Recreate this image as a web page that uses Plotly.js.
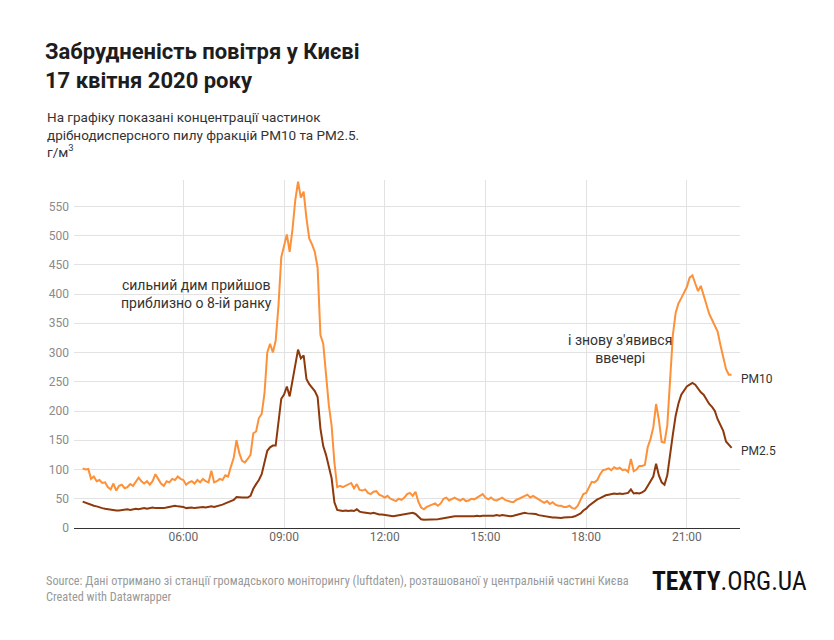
<!DOCTYPE html>
<html>
<head>
<meta charset="utf-8">
<script src="https://cdn.plot.ly/plotly-3.0.1.min.js"></script>
<style>
  html, body { margin: 0; padding: 0; background: #fff; }
  #chart { width: 834px; height: 640px; }
</style>
</head>
<body>
<div id="chart"></div>
<script>
// Sampling: every 5 minutes from 03:00 to 22:20, 17 April 2020
const DAY = '2020-04-17';
const START_MIN = 180;
const STEP_MIN = 5;

// PM10, ug/m3 (12 values per hour, :00 ... :55)
const pm10 = [
  102,100,101,84,88,80,82,77,78,70,66,76,        // 03
  64,72,74,68,70,75,72,78,86,80,76,80,           // 04
  74,80,92,84,76,72,80,78,84,82,88,84,           // 05
  82,74,78,80,76,82,78,84,80,78,98,78,           // 06
  80,84,82,90,88,105,120,150,128,115,112,118,    // 07
  125,162,165,188,195,230,300,315,300,320,380,463, // 08
  485,502,472,510,560,592,565,575,530,495,485,472, // 09
  445,330,315,261,210,175,112,70,72,70,72,75,    // 10
  77,68,75,65,64,66,60,58,62,63,57,55,           // 11
  52,55,50,48,46,50,48,52,58,60,55,62,           // 12
  45,35,32,36,38,40,42,38,42,50,52,47,           // 13
  50,52,49,47,50,46,47,50,49,52,55,58,           // 14
  52,49,52,48,47,50,52,48,46,45,44,48,           // 15
  50,52,54,57,52,55,52,49,45,43,46,41,           // 16
  44,40,38,38,36,36,38,34,33,38,48,58,           // 17
  60,70,79,78,82,92,99,100,102,99,104,101,       // 18
  103,99,100,96,118,97,100,106,106,108,138,152,  // 19
  172,212,185,147,146,175,264,330,368,384,393,402, // 20
  412,428,432,418,405,414,398,378,366,356,346,336, // 21
  313,290,272,262,262                            // 22
];

// PM2.5, ug/m3
const pm25 = [
  45,43,42,40,38,37,35,34,33,32,31,30,           // 03
  30,30,31,31,32,31,32,33,32,33,34,33,           // 04
  34,35,34,34,33,34,35,36,37,38,37,37,           // 05
  36,34,35,35,34,35,36,36,35,36,37,36,           // 06
  37,38,40,42,44,46,48,53,52,52,52,52,           // 07
  55,67,75,82,92,112,132,138,141,141,180,221,    // 08
  228,242,225,250,280,305,290,295,255,246,240,234, // 09
  224,170,140,125,105,85,44,31,30,29,30,29,      // 10
  30,29,32,28,27,26,25,25,26,24,23,23,           // 11
  22,22,21,20,21,22,23,23,24,25,26,24,           // 12
  20,15,14,14,14,15,15,15,16,17,18,18,           // 13
  19,20,20,20,20,20,19,20,20,21,20,21,           // 14
  21,20,21,21,22,21,22,21,20,20,21,22,           // 15
  23,25,26,25,25,25,24,22,21,20,19,18,           // 16
  18,18,17,17,18,18,18,19,20,22,25,30,           // 17
  33,38,42,46,49,51,54,56,57,58,59,58,           // 18
  59,58,59,60,66,59,60,59,61,64,72,79,           // 19
  88,110,90,78,74,90,130,160,192,213,228,236,    // 20
  242,245,248,245,238,232,228,220,212,207,200,186, // 21
  177,166,148,142,137                            // 22
];

const xTickVals = ['06:00','09:00','12:00','15:00','18:00','21:00'];
const yTickVals = [0,50,100,150,200,250,300,350,400,450,500,550];
const seriesNames = ['PM10','PM2.5'];

const titleText = 'Забрудненість повітря у Києві<br>17 квітня 2020 року';
const subtitleText = 'На графіку показані концентрації частинок<br>дрібнодисперсного пилу фракцій PM10 та PM2.5.<br>г/м<sup>3</sup>';
const note1 = 'сильний дим прийшов<br>приблизно о 8-ій ранку';
const note2 = "і знову з'явився<br>ввечері";
const sourceText = 'Source: Дані отримано зі станції громадського моніторингу (luftdaten), розташованої у центральній частині Києва';
const creditText = 'Created with Datawrapper';
const brandText = '<b>TEXTY</b>.ORG.UA';

function pad(n) { return (n < 10 ? '0' : '') + n; }
const times = pm10.map(function (_, i) {
  const m = START_MIN + STEP_MIN * i;
  return DAY + ' ' + pad(Math.floor(m / 60)) + ':' + pad(m % 60);
});

const W = 834, H = 640;
const L = 74, R = 94, T = 180, B = 112;
const pw = W - L - R, ph = H - T - B;
function px(x) { return (x - L) / pw; }
function py(y) { return (H - B - y) / ph; }

const FONT = 'Roboto, "Noto Sans", sans-serif';
const COND = '"Roboto Condensed", "Liberation Sans Narrow", "DejaVu Sans Condensed", Roboto, sans-serif';

const traces = [
  { x: times, y: pm10, name: seriesNames[0], type: 'scatter', mode: 'lines',
    line: { color: '#fd9139', width: 2 }, hoverinfo: 'skip' },
  { x: times, y: pm25, name: seriesNames[1], type: 'scatter', mode: 'lines',
    line: { color: '#8e390c', width: 2 }, hoverinfo: 'skip' }
];

const layout = {
  width: W, height: H,
  margin: { l: L, r: R, t: T, b: B, pad: 0 },
  paper_bgcolor: '#ffffff', plot_bgcolor: '#ffffff',
  showlegend: false,
  font: { family: FONT, color: '#333' },
  title: {
    text: titleText,
    font: { family: FONT, size: 22, color: '#1d1d1d', weight: 700 },
    x: 45 / W, xref: 'container', xanchor: 'left',
    y: 1 - 59 / H, yref: 'container', yanchor: 'top'
  },
  xaxis: {
    type: 'date',
    range: [DAY + ' 02:44:30', DAY + ' 22:35'],
    tickvals: xTickVals.map(function (t) { return DAY + ' ' + t; }),
    ticktext: xTickVals,
    showgrid: true, gridcolor: '#e2e2e2', gridwidth: 1,
    zeroline: false, showline: false, ticks: '',
    tickfont: { family: FONT, size: 12, color: '#666' },
    fixedrange: true
  },
  yaxis: {
    range: [0, 595],
    tickvals: yTickVals,
    showgrid: true, gridcolor: '#e2e2e2', gridwidth: 1,
    zeroline: true, zerolinecolor: '#333', zerolinewidth: 1,
    showline: false, ticks: '',
    tickfont: { family: FONT, size: 12, color: '#8a8a8a' },
    ticklabelstandoff: 4,
    fixedrange: true
  },
  annotations: [
    { text: subtitleText, xref: 'paper', yref: 'paper', x: px(45), y: py(107),
      xanchor: 'left', yanchor: 'top', align: 'left', showarrow: false,
      font: { family: FONT, size: 13.5, color: '#333' } },
    { text: note1, xref: 'paper', yref: 'paper', x: px(196), y: py(294),
      xanchor: 'center', yanchor: 'middle', align: 'center', showarrow: false,
      font: { family: FONT, size: 14, color: '#333' } },
    { text: note2, xref: 'paper', yref: 'paper', x: px(620), y: py(349),
      xanchor: 'center', yanchor: 'middle', align: 'center', showarrow: false,
      font: { family: FONT, size: 14, color: '#333' } },
    { text: seriesNames[0], xref: 'paper', yref: 'paper', x: px(739), y: py(379),
      xanchor: 'left', yanchor: 'middle', showarrow: false,
      font: { family: FONT, size: 12, color: '#333' } },
    { text: seriesNames[1], xref: 'paper', yref: 'paper', x: px(739), y: py(451),
      xanchor: 'left', yanchor: 'middle', showarrow: false,
      font: { family: FONT, size: 12, color: '#333' } },
    { text: sourceText, xref: 'paper', yref: 'paper', x: px(44), y: py(581),
      xanchor: 'left', yanchor: 'middle', align: 'left', showarrow: false,
      font: { family: COND, size: 12.3, color: '#999' } },
    { text: creditText, xref: 'paper', yref: 'paper', x: px(44), y: py(597),
      xanchor: 'left', yanchor: 'middle', align: 'left', showarrow: false,
      font: { family: COND, size: 12.3, color: '#999' } },
    { text: brandText, xref: 'paper', yref: 'paper', x: px(809), y: py(581),
      xanchor: 'right', yanchor: 'middle', align: 'right', showarrow: false,
      font: { family: COND, size: 25.5, color: '#111' } }
  ]
};

Plotly.newPlot('chart', traces, layout, { staticPlot: true, displayModeBar: false });
</script>
</body>
</html>
